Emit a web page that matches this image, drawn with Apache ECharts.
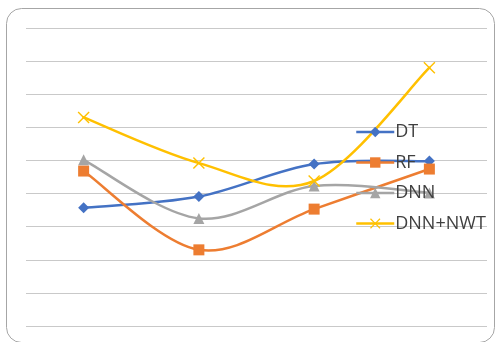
<!DOCTYPE html>
<html>
<head>
<meta charset="utf-8">
<script src="https://cdn.jsdelivr.net/npm/echarts@6/dist/echarts.min.js"></script>
<style>
  html, body { margin: 0; padding: 0; background: #fff; }
  #chart { width: 496px; height: 342px; }
</style>
</head>
<body>
<div id="chart"></div>
<script>
// Four test points, four models
const categories = ['1', '2', '3', '4'];
const dtValues = [3.57, 3.91, 4.89, 4.98];
const rfValues = [4.68, 2.30, 3.53, 4.74];
const dnnValues = [5.02, 3.25, 4.23, 4.02];
const dnnNwtValues = [6.30, 4.92, 4.38, 7.80];
const seriesNames = ['DT', 'RF', 'DNN', 'DNN+NWT'];
const seriesColors = ['#4472C4', '#ED7D31', '#A5A5A5', '#FFC000'];

const crossPath = 'path://M0,1L1,0L6,5L11,0L12,1L7,6L12,11L11,12L6,7L1,12L0,11L5,6Z';
const LINE_W = 2.5;

// Markers only; the connecting curve is drawn by the custom series below
function markerSeries(name, data, color, symbol, size) {
  return {
    name: name,
    type: 'line',
    data: data,
    symbol: symbol,
    symbolSize: size,
    showAllSymbol: true,
    z: 3,
    lineStyle: { color: color, width: LINE_W, opacity: 0 },
    itemStyle: { color: color },
    emphasis: { disabled: true }
  };
}

// Cardinal-spline curve through the data points (tangent = (next - prev) / 6)
function curveSeries(name, values, color) {
  return {
    name: name + ' curve',
    type: 'custom',
    z: 1,
    silent: true,
    data: values.map(function (v, i) { return [i, v]; }),
    encode: { x: 0, y: 1 },
    renderItem: function (params, api) {
      if (params.dataIndex !== 0) return null;
      const pts = values.map(function (v, i) { return api.coord([i, v]); });
      const n = pts.length;
      const children = [];
      for (let i = 0; i < n - 1; i++) {
        const p0 = pts[Math.max(i - 1, 0)];
        const p1 = pts[i];
        const p2 = pts[i + 1];
        const p3 = pts[Math.min(i + 2, n - 1)];
        children.push({
          type: 'bezierCurve',
          shape: {
            x1: p1[0], y1: p1[1],
            cpx1: p1[0] + (p2[0] - p0[0]) / 6, cpy1: p1[1] + (p2[1] - p0[1]) / 6,
            cpx2: p2[0] - (p3[0] - p1[0]) / 6, cpy2: p2[1] - (p3[1] - p1[1]) / 6,
            x2: p2[0], y2: p2[1]
          },
          style: { fill: null, stroke: color, lineWidth: LINE_W, lineCap: 'round' }
        });
      }
      return { type: 'group', children: children };
    }
  };
}

const chart = echarts.init(document.getElementById('chart'), null, { renderer: 'canvas' });
chart.setOption({
  animation: false,
  backgroundColor: '#ffffff',
  graphic: [{
    type: 'rect',
    shape: { x: 6.5, y: 8.5, width: 488, height: 334, r: 15 },
    style: { fill: 'none', stroke: '#a6a6a6', lineWidth: 1 },
    z: -10
  }],
  grid: { left: 26, right: 9, top: 28, bottom: 16 },
  xAxis: {
    type: 'category',
    data: categories,
    boundaryGap: true,
    axisLine: { show: false },
    axisTick: { show: false },
    axisLabel: { show: false }
  },
  yAxis: {
    type: 'value',
    min: 0,
    max: 9,
    interval: 1,
    axisLine: { show: false },
    axisTick: { show: false },
    axisLabel: { show: false },
    splitLine: { lineStyle: { color: '#c9c9c9', width: 1.2 } }
  },
  legend: {
    orient: 'vertical',
    left: 350,
    top: 118,
    itemGap: 12.5,
    itemWidth: 38,
    itemHeight: 13,
    z: 10,
    textStyle: { fontFamily: 'Open Sans', fontSize: 18, lineHeight: 18, color: '#404040', padding: [0, 0, 0, -4] },
    data: seriesNames.map(function (name, i) {
      return { name: name, lineStyle: { color: seriesColors[i], width: LINE_W, opacity: 1 } };
    })
  },
  series: [
    markerSeries(seriesNames[0], dtValues, seriesColors[0], 'diamond', 11),
    markerSeries(seriesNames[1], rfValues, seriesColors[1], 'rect', 11),
    markerSeries(seriesNames[2], dnnValues, seriesColors[2], 'triangle', 11),
    markerSeries(seriesNames[3], dnnNwtValues, seriesColors[3], crossPath, 12),
    curveSeries(seriesNames[0], dtValues, seriesColors[0]),
    curveSeries(seriesNames[1], rfValues, seriesColors[1]),
    curveSeries(seriesNames[2], dnnValues, seriesColors[2]),
    curveSeries(seriesNames[3], dnnNwtValues, seriesColors[3])
  ]
});
</script>
</body>
</html>
